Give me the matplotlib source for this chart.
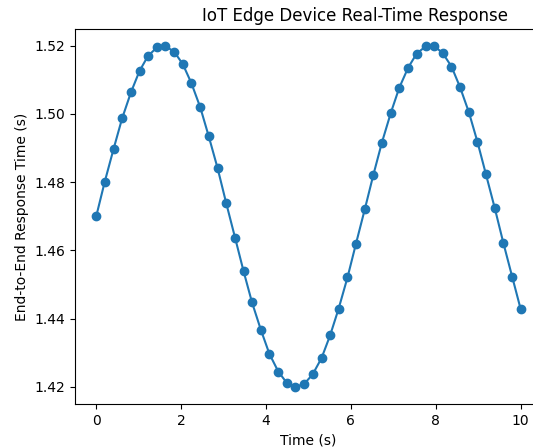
import matplotlib
matplotlib.use("Agg")
import matplotlib.pyplot as plt

# sample times (s)
time_s = [0.00, 0.20, 0.41, 0.61, 0.82, 1.02, 1.22, 1.43, 1.63, 1.84,
          2.04, 2.24, 2.45, 2.65, 2.86, 3.06, 3.27, 3.47, 3.67, 3.88,
          4.08, 4.29, 4.49, 4.69, 4.90, 5.10, 5.31, 5.51, 5.71, 5.92,
          6.12, 6.33, 6.53, 6.73, 6.94, 7.14, 7.35, 7.55, 7.76, 7.96,
          8.16, 8.37, 8.57, 8.78, 8.98, 9.18, 9.39, 9.59, 9.80, 10.00]

# end-to-end response time (s)
response_s = [1.4700, 1.4801, 1.4898, 1.4987, 1.5064, 1.5126, 1.5170, 1.5195, 1.5199, 1.5182,
              1.5146, 1.5091, 1.5020, 1.4935, 1.4841, 1.4740, 1.4638, 1.4540, 1.4448, 1.4367,
              1.4297, 1.4245, 1.4212, 1.4200, 1.4209, 1.4237, 1.4285, 1.4351, 1.4429, 1.4521,
              1.4620, 1.4722, 1.4822, 1.4916, 1.5003, 1.5077, 1.5136, 1.5177, 1.5198, 1.5199,
              1.5179, 1.5139, 1.5079, 1.5005, 1.4919, 1.4824, 1.4724, 1.4623, 1.4523, 1.4428]

fig = plt.figure(figsize=(5.33, 4.48), dpi=100)
ax = fig.add_axes([0.1407, 0.0982, 0.876, 0.837])

ax.plot(time_s, response_s, marker="o")

ax.set_xticks([0, 2, 4, 6, 8, 10])
ax.set_yticks([1.42, 1.44, 1.46, 1.48, 1.50, 1.52])
ax.set_xlabel("Time (s)")
ax.set_ylabel("End-to-End Response Time (s)")
ax.set_title("IoT Edge Device Real-Time Response", x=0.6)

fig.savefig("out.png", dpi=100)
